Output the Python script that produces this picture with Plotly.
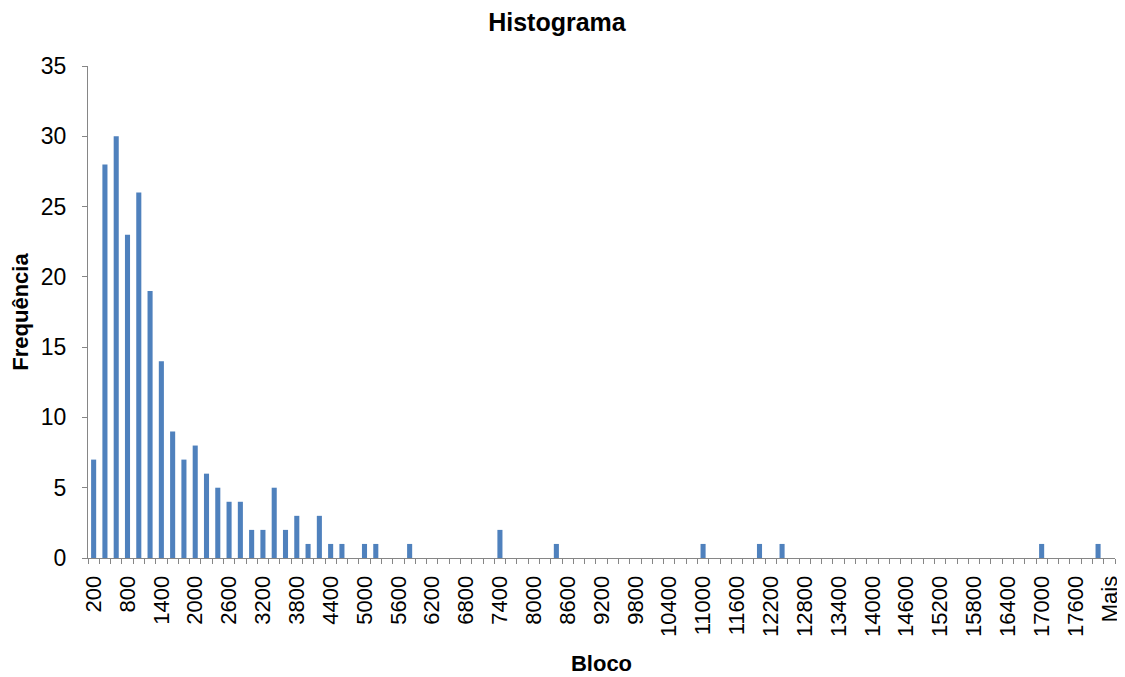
import plotly.graph_objects as go

categories = [str(v) for v in range(200, 18001, 200)] + ["Mais"]
counts_by_bin = {
    "200": 7, "400": 28, "600": 30, "800": 23, "1000": 26, "1200": 19,
    "1400": 14, "1600": 9, "1800": 7, "2000": 8, "2200": 6, "2400": 5,
    "2600": 4, "2800": 4, "3000": 2, "3200": 2, "3400": 5, "3600": 2,
    "3800": 3, "4000": 1, "4200": 3, "4400": 1, "4600": 1, "5000": 1,
    "5200": 1, "5800": 1, "7400": 2, "8400": 1, "11000": 1, "12000": 1,
    "12400": 1, "17000": 1, "18000": 1,
}
frequencies = [counts_by_bin.get(c, 0) for c in categories]
tick_labels = [c if i % 3 == 0 else "" for i, c in enumerate(categories)]

fig = go.Figure(go.Bar(x=categories, y=frequencies, marker_color="#4F81BD",
                       marker_line_width=0))

font = "Liberation Sans, Arial, sans-serif"
fig.update_layout(
    width=1125, height=677,
    paper_bgcolor="white", plot_bgcolor="white",
    margin=dict(l=80, r=18, t=58, b=127),
    bargap=0.55,
    showlegend=False,
    font=dict(family=font, color="#000000"),
    title=dict(text="<b>Histograma</b>", x=0.488, xanchor="center",
               y=0.979, yanchor="middle", font=dict(size=25, family=font)),
)
fig.update_xaxes(
    type="category", categoryorder="array", categoryarray=categories,
    tickmode="array", tickvals=categories, ticktext=tick_labels,
    tickangle=-90, tickson="boundaries",
    ticks="outside", ticklen=5, tickcolor="#868686",
    ticklabelstandoff=8, automargin=False,
    showline=True, linecolor="#868686", linewidth=1,
    showgrid=False, zeroline=False,
    tickfont=dict(size=22, family=font, color="#000000"),
    title=dict(text="<b>Bloco</b>", font=dict(size=22, family=font), standoff=19),
)
fig.update_yaxes(
    range=[0, 35], tickmode="linear", tick0=0, dtick=5,
    ticks="outside", ticklen=5, tickcolor="#868686",
    ticklabelstandoff=11, automargin=False,
    showline=True, linecolor="#868686", linewidth=1,
    showgrid=False, zeroline=False,
    tickfont=dict(size=23, family=font, color="#000000"),
    title=dict(text="<b>Frequência</b>", font=dict(size=22, family=font), standoff=10),
)
fig.write_html("out.html")
